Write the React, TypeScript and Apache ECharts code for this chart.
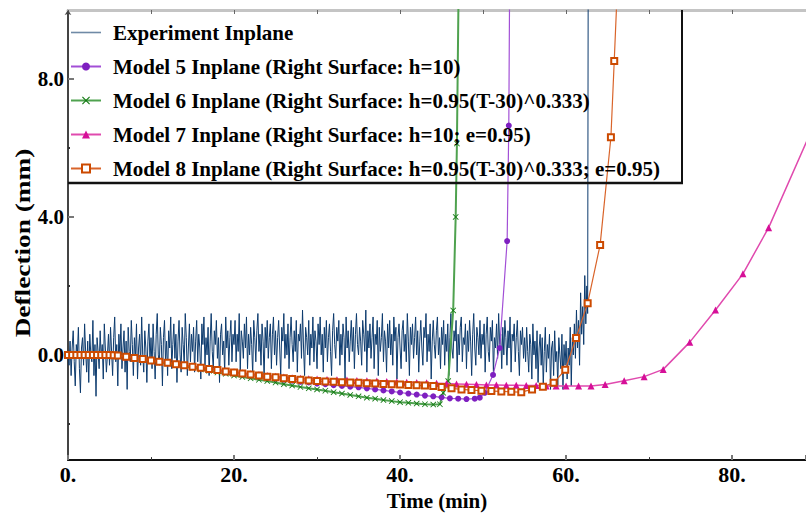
import React, { useEffect, useRef } from "react";
import * as echarts from "echarts";

const FONT = '"Liberation Serif", "Times New Roman", serif';

const seriesNames = [
  "Experiment Inplane",
  "Model 5 Inplane (Right Surface: h=10)",
  "Model 6 Inplane (Right Surface: h=0.95(T-30)^0.333)",
  "Model 7 Inplane (Right Surface: h=10; e=0.95)",
  "Model 8 Inplane (Right Surface: h=0.95(T-30)^0.333; e=0.95)",
];

const xTickLabels = [0, 20, 40, 60, 80];
const yTickLabels = [0, 4, 8];
const yMinorTicks = [-2, 2, 6];

// Experiment: readings every 0.125 min from 0 to 61 min
const EXP_DT = 0.125;
const expValues = [
  0.1, -0.3, 0.4, -0.6, 0.2, 0.7, -0.2, -0.9, 0.3, 0.0, 0.8, -0.4, -1.1, 0.2, 0.5, -0.3, 0.9, 0.1, -0.5, 0.4, -0.8, 0.6, 0.0, -0.2, 1.0, -0.6, 0.3, -1.2, 0.5, 0.1, -0.4, 0.7, -0.1, 0.3, -0.7, 0.9, 0.2, -0.5, 0.0, 0.6,
  -0.3, 0.8, 0.1, -0.6, 0.5, 1.1, -0.2, 0.3, -0.9, 0.6, 0.0, 0.9, -0.4, 0.2, 0.7, -0.5, 0.4, -1.0, 0.8, 0.1, -0.2, 1.0, 0.3, -0.6, 0.5, -0.1, 0.9, -0.7, 0.2, 0.6, -0.3, 1.1, 0.0, -0.5, 0.7, 0.2, -0.8, 0.4, 0.9, -0.2,
  0.5, -0.4, 0.9, 0.1, -0.7, 0.6, 1.2, 0.0, -0.3, 0.8, 0.3, -0.9, 0.5, 1.0, -0.2, 0.4, -0.6, 0.7, 0.2, 1.1, -0.4, 0.3, 0.9, -0.1, 0.6, -0.8, 0.4, 1.0, 0.0, -0.5, 0.8, 0.3, -0.3, 1.2, 0.5, -0.6, 0.2, 0.9, -0.2, 0.6,
  0.1, 0.8, -0.5, 0.4, 1.0, -0.2, 0.6, 0.2, -0.7, 0.9, 0.3, 1.1, -0.3, 0.5, 0.0, 0.8, -0.6, 0.4, 1.2, 0.1, -0.4, 0.7, 0.3, 1.0, -0.1, 0.5, -0.8, 0.6, 0.9, 0.0, 0.4, -0.5, 1.1, 0.2, 0.7, -0.3, 0.5, 1.0, -0.2, 0.6,
  0.3, 1.0, -0.2, 0.6, 0.1, 1.2, -0.5, 0.7, 0.4, -0.1, 0.9, 0.2, 1.1, -0.4, 0.6, 0.0, 0.8, 0.3, -0.6, 1.0, 0.5, -0.2, 0.7, 1.2, 0.1, 0.6, -0.3, 0.9, 0.4, -0.7, 0.8, 0.2, 1.0, -0.1, 0.5, 0.9, -0.4, 0.6, 1.1, 0.0,
  0.7, -0.3, 0.5, 1.0, 0.2, -0.6, 0.8, 0.4, 1.2, -0.1, 0.6, 0.0, 0.9, -0.4, 0.5, 1.1, 0.3, -0.2, 0.7, 0.1, 1.0, -0.5, 0.6, 0.4, 0.9, -0.1, 1.3, 0.2, -0.6, 0.8, 0.5, 0.0, 1.0, -0.3, 0.6, 0.2, 1.1, -0.2, 0.7, 0.4,
  -0.4, 0.9, 0.3, 1.1, 0.0, 0.6, -0.5, 0.8, 0.2, 1.0, -0.2, 0.5, 0.9, 0.1, -0.6, 0.7, 1.2, 0.3, -0.1, 0.8, 0.4, 1.0, -0.3, 0.6, 0.0, 0.9, 0.5, -0.7, 1.1, 0.2, 0.7, -0.2, 0.4, 1.0, 0.1, 0.8, -0.4, 0.6, 1.2, 0.3,
  0.0, 0.8, 0.4, -0.3, 1.0, 0.6, 0.1, 1.3, -0.5, 0.7, 0.2, 0.9, -0.1, 0.5, 1.1, -0.4, 0.6, 0.3, 1.0, -0.6, 0.8, 0.1, 0.5, 1.2, -0.2, 0.7, 0.4, -0.5, 0.9, 0.2, 1.0, 0.0, 0.6, -0.3, 1.1, 0.4, 0.8, -0.7, 0.5, 0.9,
  0.2, -0.4, 0.7, 1.0, 0.1, 0.6, -0.2, 1.2, 0.4, -0.6, 0.8, 0.3, 0.9, -0.1, 0.5, 1.1, 0.0, 0.7, -0.5, 0.4, 1.0, 0.2, -0.3, 0.8, 0.5, 1.2, -0.2, 0.6, 0.1, 0.9, -0.7, 0.4, 1.0, 0.3, -0.1, 0.7, 1.1, 0.0, 0.5, -0.4,
  0.8, 0.3, 1.0, -0.3, 0.6, 0.1, 0.9, -0.6, 0.5, 1.2, 0.2, -0.1, 0.7, 0.4, 1.0, -0.5, 0.6, 0.0, 0.8, 1.1, -0.2, 0.5, 0.3, 0.9, -0.4, 0.7, 0.1, 1.0, 0.4, -0.6, 0.6, 1.2, 0.2, -0.3, 0.8, 0.5, 0.0, 1.0, -0.1, 0.6,
  0.3, 0.9, -0.5, 0.6, 1.1, 0.1, -0.2, 0.8, 0.4, 1.0, -0.6, 0.5, 0.2, 0.9, -0.1, 1.2, 0.3, 0.6, -0.4, 0.8, 0.0, 1.0, 0.5, -0.3, 0.7, 0.2, 1.1, -0.5, 0.6, 0.4, 0.9, -0.2, 0.5, 1.0, 0.1, -0.6, 0.7, 0.3, 0.8, -0.1,
  0.5, -0.2, 0.8, 0.1, -0.5, 0.6, 0.3, -0.7, 0.9, 0.0, 0.4, -0.4, 0.7, -0.8, 0.2, 0.6, -0.3, 0.5, -0.9, 0.1, 0.8, -0.5, 0.3, -0.1, 0.6, -1.0, 0.2, 0.4, -0.6, 0.7, -0.2, 0.1, -0.9, 0.5, 0.0, -0.4, 0.6, -1.0, 0.3, -0.3,
  0.4, -0.7, 0.2, -0.3, 0.8, -0.9, 0.5, 0.0, 0.9,
];
const expTail = [
  [61.125, -0.1], [61.25, 1.3], [61.375, 0.2], [61.5, 1.0], [61.625, -0.3], [61.75, 1.8], [61.875, 0.6],
  [62.0, 1.4], [62.125, 0.3], [62.25, 2.3], [62.375, 0.9], [62.5, 2.0], [62.6, 1.2], [62.67, 12],
];

const model5 = [
  [0, 0], [0.5, 0], [1, 0], [1.5, 0], [2, 0], [2.5, 0], [3, 0], [3.5, 0], [4, 0], [4.5, 0], [5, 0], [5.5, -0.01],
  [6, -0.02], [7, -0.05], [8, -0.09], [9, -0.12], [10, -0.16], [11, -0.2], [12, -0.24], [13, -0.28], [14, -0.31],
  [15, -0.35], [16, -0.39], [17, -0.42], [18, -0.46], [19, -0.5], [20, -0.53], [21, -0.57], [22, -0.6], [23, -0.63],
  [24, -0.66], [25, -0.69], [26, -0.72], [27, -0.75], [28, -0.78], [29, -0.8], [30, -0.83], [31, -0.85], [32, -0.88],
  [33, -0.9], [34, -0.92], [35, -0.94], [36, -0.97], [37, -1.0], [38, -1.03], [39, -1.06], [40, -1.09], [41, -1.12],
  [42, -1.15], [43, -1.18], [44, -1.2], [45, -1.23], [46, -1.26], [47, -1.27], [48, -1.28], [49, -1.27],
  [49.6, -1.24], [50.2, -1.1], [51.2, -0.58], [52, 0.2], [52.9, 3.3], [53.1, 6.65], [53.2, 10.8],
];

const model6 = [
  [0, 0], [0.5, 0], [1, 0], [1.5, 0], [2, 0], [2.5, 0], [3, 0], [3.5, 0], [4, 0], [4.5, 0], [5, 0], [5.5, -0.01],
  [6, -0.02], [7, -0.05], [8, -0.09], [9, -0.13], [10, -0.17], [11, -0.21], [12, -0.25], [13, -0.29], [14, -0.33],
  [15, -0.37], [16, -0.42], [17, -0.46], [18, -0.51], [19, -0.55], [20, -0.6], [21, -0.64], [22, -0.68], [23, -0.72],
  [24, -0.76], [25, -0.8], [26, -0.85], [27, -0.89], [28, -0.93], [29, -0.97], [30, -1.0], [31, -1.04], [32, -1.08],
  [33, -1.12], [34, -1.16], [35, -1.2], [36, -1.24], [37, -1.27], [38, -1.31], [39, -1.34], [40, -1.37],
  [41, -1.39], [42, -1.41], [43, -1.43], [44, -1.44], [44.8, -1.43], [45.2, -1.1], [45.8, -0.76], [46.4, 1.29],
  [46.7, 4.0], [46.85, 6.13], [47.05, 10.6],
];

const model7 = [
  [0, 0], [0.5, 0], [1, 0], [1.5, 0], [2, 0], [2.5, 0], [3, 0], [3.5, 0], [4, 0], [4.5, 0], [5, 0], [5.5, -0.01],
  [6, -0.02], [7, -0.05], [8, -0.08], [9, -0.12], [10, -0.15], [11, -0.19], [12, -0.22], [13, -0.26], [14, -0.29],
  [15, -0.33], [16, -0.36], [17, -0.39], [18, -0.42], [19, -0.46], [20, -0.49], [21, -0.52], [22, -0.55],
  [23, -0.57], [24, -0.6], [25, -0.62], [26, -0.64], [27, -0.66], [28, -0.68], [29, -0.69], [30, -0.7],
  [31.2, -0.71], [32.4, -0.72], [33.6, -0.73], [34.8, -0.74], [36, -0.75], [37.2, -0.76], [38.4, -0.77],
  [39.6, -0.78], [40.8, -0.79], [42, -0.8], [43.2, -0.81], [44.4, -0.82], [45.6, -0.83], [46.8, -0.84],
  [48, -0.85], [49.2, -0.86], [50.4, -0.87], [51.6, -0.87], [52.8, -0.88], [54, -0.88], [55.2, -0.89],
  [56.4, -0.89], [57.6, -0.9], [58.8, -0.9], [60, -0.9], [61.5, -0.9], [63, -0.9], [64.7, -0.86], [67, -0.75],
  [69.4, -0.63], [71.7, -0.42], [74.9, 0.37], [78, 1.3], [81.3, 2.35], [84.4, 3.69], [89.6, 6.53],
];

const model8 = [
  [0, 0], [0.5, 0], [1, 0], [1.5, 0], [2, 0], [2.5, 0], [3, 0], [3.5, 0], [4, 0], [4.5, 0], [5, 0], [5.5, -0.01],
  [6, -0.02], [7, -0.05], [8, -0.09], [9, -0.12], [10, -0.16], [11, -0.2], [12, -0.23], [13, -0.27], [14, -0.3],
  [15, -0.34], [16, -0.37], [17, -0.41], [18, -0.44], [19, -0.48], [20, -0.51], [21, -0.54], [22, -0.57],
  [23, -0.6], [24, -0.63], [25, -0.65], [26, -0.68], [27, -0.7], [28, -0.72], [29, -0.74], [30, -0.76],
  [31, -0.77], [32, -0.78], [33, -0.79], [34, -0.8], [35, -0.81], [36, -0.82], [37, -0.83], [38, -0.84],
  [39, -0.85], [40, -0.86], [41, -0.87], [42, -0.88], [43, -0.89], [44, -0.9], [45, -0.93], [46.2, -0.97],
  [47.4, -1.0], [48.6, -1.02], [49.8, -1.04], [51, -1.05], [52.2, -1.06], [53.4, -1.07], [54.6, -1.08],
  [55.9, -1.0], [57.2, -0.92], [58.5, -0.81], [59.9, -0.43], [61.2, 0.49], [62.6, 1.5], [64.1, 3.19],
  [65.4, 6.31], [65.8, 8.52], [66.2, 10.8],
];

const X_SYMBOL = "path://M0,1 L1,0 L5,4 L9,0 L10,1 L6,5 L10,9 L9,10 L5,6 L1,10 L0,9 L4,5 Z";
const THIN_LINE_ICON = "path://M0,0 L30,0 L30,1.6 L0,1.6 Z";

export default function App() {
  const ref = useRef<HTMLDivElement>(null);

  useEffect(() => {
    if (!ref.current) return;
    const chart = echarts.init(ref.current, null, { renderer: "svg" });

    const expData = expValues.map((v, i) => [i * EXP_DT, v]).concat(expTail);

    const labelFont = { fontFamily: FONT, fontWeight: "bold" as const, color: "#000" };

    chart.setOption({
      animation: false,
      backgroundColor: "#fff",
      grid: { left: 68, top: 10, width: 738, height: 453.5, containLabel: false },
      legend: {
        orient: "vertical",
        left: 70,
        top: 22,
        padding: 0,
        itemWidth: 30,
        itemHeight: 10,
        itemGap: 13,
        symbolKeepAspect: true,
        data: [
          { name: seriesNames[0], icon: THIN_LINE_ICON, itemStyle: { color: "#6f8aa6" } },
          seriesNames[1],
          seriesNames[2],
          seriesNames[3],
          seriesNames[4],
        ],
        textStyle: { ...labelFont, fontSize: 21, lineHeight: 21, padding: [0, 0, 0, 7] },
      },
      xAxis: [
        {
          type: "value",
          position: "bottom",
          min: 0,
          max: 88.9,
          interval: 20,
          axisLine: { show: true, onZero: false, lineStyle: { color: "#111", width: 2 } },
          axisTick: { show: true, inside: true, length: 5, lineStyle: { color: "#777", width: 2 } },
          minorTick: { show: true, splitNumber: 2, length: 3, lineStyle: { color: "#333", width: 1 } },
          splitLine: { show: false },
          minorSplitLine: { show: false },
          axisLabel: {
            ...labelFont,
            fontSize: 22,
            margin: 3,
            customValues: xTickLabels,
            formatter: (v: number) => `${v}.`,
          },
          name: "Time (min)",
          nameLocation: "middle",
          nameGap: 26,
          nameTextStyle: { ...labelFont, fontSize: 21 },
        },
        {
          type: "value",
          position: "top",
          min: 0,
          max: 88.9,
          interval: 10,
          axisLine: { show: true, onZero: false, lineStyle: { color: "#c4c4c4", width: 3 } },
          axisTick: { show: true, inside: true, length: 4, lineStyle: { color: "#666", width: 1 } },
          axisLabel: { show: false },
          splitLine: { show: false },
        },
      ],
      yAxis: [
        {
          type: "value",
          position: "left",
          min: -3.05,
          max: 10,
          axisLine: {
            show: true,
            onZero: false,
            symbol: ["none", "arrow"],
            symbolSize: [5, 5],
            lineStyle: { color: "#444", width: 2 },
          },
          axisTick: { show: true, inside: true, length: 6, customValues: yTickLabels, lineStyle: { color: "#777", width: 2 } },
          axisLabel: {
            ...labelFont,
            fontSize: 21,
            margin: 4,
            customValues: yTickLabels,
            formatter: (v: number) => v.toFixed(1),
          },
          splitLine: { show: false },
        },
        {
          type: "value",
          position: "left",
          min: -3.05,
          max: 10,
          axisLine: { show: false },
          axisTick: { show: true, inside: true, length: 2, customValues: yMinorTicks, lineStyle: { color: "#333", width: 2 } },
          axisLabel: { show: false },
          splitLine: { show: false },
        },
      ],
      graphic: [
        {
          type: "line",
          shape: { x1: 682, y1: 10, x2: 682, y2: 183 },
          style: { stroke: "#111", lineWidth: 2 },
          z: 10,
        },
        {
          type: "line",
          shape: { x1: 68, y1: 183, x2: 683, y2: 183 },
          style: { stroke: "#111", lineWidth: 2.5 },
          z: 10,
        },
        {
          type: "text",
          x: 23,
          y: 243,
          rotation: Math.PI / 2,
          scaleX: 1.3,
          style: {
            text: "Deflection (mm)",
            font: `bold 21px ${FONT}`,
            fill: "#000",
            textAlign: "center",
            textVerticalAlign: "middle",
          },
        },
      ],
      series: [
        {
          name: seriesNames[0],
          type: "line",
          data: expData,
          symbol: "none",
          lineStyle: { color: "#0d3b6e", width: 1 },
          itemStyle: { color: "#0d3b6e" },
        },
        {
          name: seriesNames[1],
          type: "line",
          data: model5,
          symbol: "circle",
          symbolSize: 6,
          showAllSymbol: true,
          lineStyle: { color: "#a24fd6", width: 1.2 },
          itemStyle: { color: "#7e1fc0" },
        },
        {
          name: seriesNames[2],
          type: "line",
          data: model6,
          symbol: X_SYMBOL,
          symbolSize: 6,
          showAllSymbol: true,
          lineStyle: { color: "#4fa24f", width: 2 },
          itemStyle: { color: "#137a13" },
        },
        {
          name: seriesNames[3],
          type: "line",
          data: model7,
          symbol: "triangle",
          symbolSize: 7,
          showAllSymbol: true,
          lineStyle: { color: "#e04aae", width: 1.5 },
          itemStyle: { color: "#d60f98" },
        },
        {
          name: seriesNames[4],
          type: "line",
          data: model8,
          symbol: "emptyRect",
          symbolSize: 6,
          showAllSymbol: true,
          lineStyle: { color: "#d9642a", width: 1.2 },
          itemStyle: { color: "#cc4a00", borderWidth: 1.3 },
        },
      ],
    });

    return () => chart.dispose();
  }, []);

  return (
    <div
      ref={ref}
      style={{ position: "fixed", left: 0, top: 0, width: 806, height: 516, background: "#fff" }}
    />
  );
}
